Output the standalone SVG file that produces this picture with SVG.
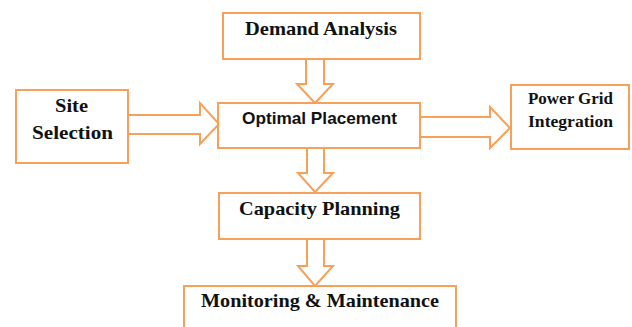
<svg xmlns="http://www.w3.org/2000/svg" width="632" height="327" viewBox="0 0 632 327">
  <style>
    .box { fill: #ffffff; stroke: #F7A05A; stroke-width: 2; }
    .arrow { fill: #ffffff; stroke: #F7A05A; stroke-width: 2; stroke-linejoin: miter; }
    .serif { font-family: "Liberation Serif", "DejaVu Serif", serif; font-weight: bold; fill: #111111; }
    .sans { font-family: "Liberation Sans", "DejaVu Sans", sans-serif; font-weight: bold; fill: #111111; }
  </style>
  <rect width="632" height="327" fill="#ffffff"/>

  <!-- block arrows between the steps -->
  <g id="connectors">
    <polygon class="arrow" points="306,59 324,59 324,84 333,84 315,103 297,84 306,84"/>
    <polygon class="arrow" points="128,115 200,115 200,103 219,124 200,144 200,134 128,134"/>
    <polygon class="arrow" points="420,117 490,117 490,107 510,128 490,148 490,137 420,137"/>
    <polygon class="arrow" points="307,147 324,147 324,173 333,173 315,192 298,173 307,173"/>
    <polygon class="arrow" points="307,239 324,239 324,266 333,266 315,286 298,266 307,266"/>
  </g>

  <g id="demand-analysis">
    <rect class="box" x="223" y="13" width="197" height="46"/>
    <text class="serif" x="245" y="35" font-size="19" textLength="152" lengthAdjust="spacingAndGlyphs">Demand Analysis</text>
  </g>

  <g id="site-selection">
    <rect class="box" x="16" y="90" width="112" height="73"/>
    <text class="serif" x="55" y="112" font-size="19" textLength="33" lengthAdjust="spacingAndGlyphs">Site</text>
    <text class="serif" x="32" y="139" font-size="19" textLength="81" lengthAdjust="spacingAndGlyphs">Selection</text>
  </g>

  <g id="optimal-placement">
    <rect class="box" x="218" y="103" width="202" height="45"/>
    <text class="sans" x="242" y="124" font-size="17" textLength="155" lengthAdjust="spacingAndGlyphs">Optimal Placement</text>
  </g>

  <g id="power-grid-integration">
    <rect class="box" x="511" y="85" width="118" height="64"/>
    <text class="serif" x="528" y="104" font-size="16" textLength="85" lengthAdjust="spacingAndGlyphs">Power Grid</text>
    <text class="serif" x="528" y="127" font-size="16" textLength="85" lengthAdjust="spacingAndGlyphs">Integration</text>
  </g>

  <g id="capacity-planning">
    <rect class="box" x="219" y="193" width="201" height="46"/>
    <text class="serif" x="239" y="215" font-size="19" textLength="161" lengthAdjust="spacingAndGlyphs">Capacity Planning</text>
  </g>

  <g id="monitoring-maintenance">
    <rect class="box" x="184" y="286" width="272" height="50"/>
    <text class="serif" x="201" y="307" font-size="19" textLength="238" lengthAdjust="spacingAndGlyphs">Monitoring &amp; Maintenance</text>
  </g>
</svg>
